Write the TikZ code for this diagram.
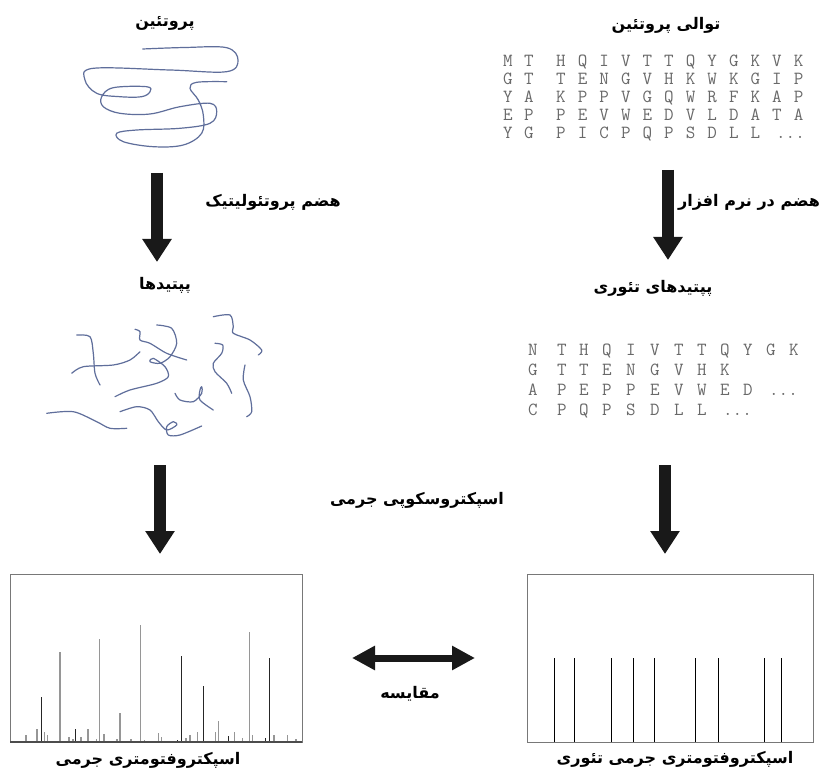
\documentclass[tikz,border=0pt]{standalone}
\usepackage{fontspec}
\TeXXeTstate=1
\newfontfamily\fa[Script=Arabic]{DejaVu Sans}
\usetikzlibrary{arrows.meta}
\newcommand\fatext[1]{\beginR#1\endR}
\definecolor{chain}{RGB}{95,110,155}
\definecolor{seqgray}{RGB}{105,105,105}
\definecolor{frame}{RGB}{120,120,120}
\definecolor{minor}{RGB}{150,150,150}

\begin{document}
\begin{tikzpicture}[x=1pt,y=-1pt,
  lbl/.style={font=\fa\bfseries\fontsize{16}{18}\selectfont, inner sep=0pt},
  seq/.style={font=\ttfamily\fontsize{18.5}{18.5}\selectfont, text=seqgray, inner sep=0pt, anchor=base},
  scrib/.style={draw=chain, line width=1.2pt, line cap=round, line join=round},
  blockarrow/.style={line width=12pt, black!90, -{Triangle[width=28pt,length=23pt]}},
  twoway/.style={line width=7pt, black!90, {Triangle[width=23pt,length=23pt]}-{Triangle[width=23pt,length=23pt]}},
  specbox/.style={draw=frame, line width=1pt},
  peakg/.style={draw=minor, line width=1.3pt},
  peakk/.style={draw=black!85, line width=1pt},
  peakt/.style={draw=black, line width=1pt}
]
\useasboundingbox (0,0) rectangle (823,773);
\clip (0,0) rectangle (823,773);
\fill[white] (0,0) rectangle (823,773);

% ---- titles and labels ----
\node[lbl] (protein)   at (165,23)  {\fatext{پروتئین}};
\node[lbl] (seqtitle)  at (666,25)  {\fatext{توالی پروتئین}};
\node[lbl] (digest)    at (273,202) {\fatext{هضم پروتئولیتیک}};
\node[lbl] (insilico)  at (749,202) {\fatext{هضم در نرم افزار}};
\node[lbl] (peptides)  at (165,285) {\fatext{پپتیدها}};
\node[lbl] (theopep)   at (653,288) {\fatext{پپتیدهای تئوری}};
\node[lbl] (msms)      at (417,500) {\fatext{اسپکتروسکوپی جرمی}};
\node[lbl] (compare)   at (410,694) {\fatext{مقایسه}};
\node[lbl] (specexp)   at (148,760) {\fatext{اسپکتروفتومتری جرمی}};
\node[lbl] (spectheo)  at (675,759) {\fatext{اسپکتروفتومتری جرمی تئوری}};

% ---- folded protein chain ----
\draw[scrib] plot[smooth, tension=0.6] coordinates {
  (142.7,49) (185,47.5) (226.7,47.7) (238,60) (226.7,71.7) (170,70) (93.3,68.3)
  (85,80) (96.7,93.3) (120,96.7) (141.7,96.7) (150,91.7) (146.7,86.7) (113.3,87.7)
  (101.7,96.7) (103.3,106.7) (120,113.3) (150,114) (180,106.7) (210,103.3)
  (216.7,111.7) (210,123.3) (180,128.3) (136.7,130) (116.7,133.3) (123.3,141.7)
  (153.3,146.7) (183.3,145) (201.7,133.3) (203.3,115) (198.3,100) (190,88.3)
  (196.7,82.3) (226.7,81.7)};

% ---- peptide fragments ----
\draw[scrib] plot[smooth] coordinates {(76.7,335) (90,336.7) (93.3,353.3) (95,373.3) (100,385)};
\draw[scrib] plot[smooth] coordinates {(71.7,373.3) (83.3,366.7) (113.3,365) (130,360) (140,351.7)};
\draw[scrib] plot[smooth] coordinates {(135,329.3) (140,331.7) (140,340) (150,343.3) (166.7,353.3) (186.7,360)};
\draw[scrib] plot[smooth] coordinates {(156.7,325) (171.7,328.3) (176.7,343.3) (170,356.7) (160,363.3)
  (150,361.7) (153.3,358.3) (165,366.7) (168.3,376.7) (156.7,383.3) (130,390) (115,396.7)};
\draw[scrib] plot[smooth] coordinates {(213.3,316.7) (230,315) (233.3,326.7) (233.3,333.3) (250,340) (261.7,350) (258.3,355)};
\draw[scrib] plot[smooth] coordinates {(215,343.3) (222.7,345) (221.7,353.3) (213.3,363.3) (215,371.7) (226.7,383.3) (231.7,393.3)};
\draw[scrib] plot[smooth] coordinates {(245,365) (243.3,380) (250,396.7) (251.7,411.7) (246.7,416.7)};
\draw[scrib] plot[smooth] coordinates {(175,393.3) (180,400) (193.3,401.7) (201.7,393.3) (201.7,386.7) (200,390) (200,400) (213.3,410)};
\draw[scrib] plot[smooth] coordinates {(46.7,413.3) (73.3,411.7) (96.7,421.7) (110,428.3) (126.7,428.3)};
\draw[scrib] plot[smooth] coordinates {(120,411.7) (136.7,406.7) (150,410) (158.3,421.7) (166.7,430)
  (176.7,425) (173.3,421.7) (166.7,426.7) (168.3,435) (180,435) (201.7,426)};

% ---- protein sequence ----
\foreach \row [count=\r] in {{M,T,H,Q,I,V,T,T,Q,Y,G,K,V,K},{G,T,T,E,N,G,V,H,K,W,K,G,I,P},
    {Y,A,K,P,P,V,G,Q,W,R,F,K,A,P},{E,P,P,E,V,W,E,D,V,L,D,A,T,A},{Y,G,P,I,C,P,Q,P,S,D,L,L}} {
  \foreach \c [count=\i] in \row {
    \pgfmathsetmacro\xx{\i==1 ? 508 : (\i==2 ? 529 : 561+21.6*(\i-3))}
    \pgfmathsetmacro\yy{67+18*(\r-1)}
    \node[seq] at (\xx,\yy) {\c};
  }
}
\node[seq, anchor=base west] (seqdots) at (776,139) {...};

% ---- theoretical peptides ----
\def\pepcols{{533,562,584,607,631,655,679,702,725,748,771,794}}
\foreach \row [count=\r] in {{N,T,H,Q,I,V,T,T,Q,Y,G,K},{G,T,T,E,N,G,V,H,K},
    {A,P,E,P,P,E,V,W,E,D},{C,P,Q,P,S,D,L,L}} {
  \foreach \c [count=\i] in \row {
    \pgfmathsetmacro\xx{\pepcols[\i-1]}
    \pgfmathsetmacro\yy{355+20*(\r-1)}
    \node[seq] at (\xx,\yy) {\c};
  }
}
\node[seq, anchor=base west] (pepdotsa) at (769,395) {...};
\node[seq, anchor=base west] (pepdotsb) at (723,415) {...};

% ---- block arrows ----
\coordinate (a1s) at (157,173); \coordinate (a1e) at (157,262);
\coordinate (a2s) at (668,170); \coordinate (a2e) at (668,260);
\coordinate (a3s) at (160,465); \coordinate (a3e) at (160,554);
\coordinate (a4s) at (665,465); \coordinate (a4e) at (665,554);
\draw[blockarrow] (a1s) -- (a1e);
\draw[blockarrow] (a2s) -- (a2e);
\draw[blockarrow] (a3s) -- (a3e);
\draw[blockarrow] (a4s) -- (a4e);

\coordinate (cmpl) at (352,658); \coordinate (cmpr) at (475,658);
\draw[twoway] (cmpl) -- (cmpr);

% ---- measured spectrum ----
\draw[specbox] (10,574) rectangle (302,742);
\foreach \x/\y in {26/735,37/729,44.7/732,47.7/735,60/652,69/737,73/739,81/737,88/729,
    96.7/739,99.3/639,104/734,117/739,120/713,131/739,140.7/625,144.7/740,158.3/733,
    161.3/737,186/738,190/735,197.3/732,215.3/732,218.3/720.7,234.7/732,242.7/737.7,
    249.3/632.3,252.7/735,274/735,287.3/735,296/739}
  \draw[peakg] (\x,742) -- (\x,\y);
\foreach \x/\y in {41.3/697,75.7/729,177.7/740,181.7/655.7,203.7/686,228/736,265.7/737.7,269.3/657.7}
  \draw[peakk] (\x,742) -- (\x,\y);
\draw[draw=black!70, line width=1.2pt] (10,742) -- (302,742);

% ---- theoretical spectrum ----
\draw[specbox] (527,574) rectangle (813,742);
\foreach \x in {554,574,611,633,654,695,718,764,781}
  \draw[peakt] (\x,742) -- (\x,658);

\end{tikzpicture}
\end{document}
